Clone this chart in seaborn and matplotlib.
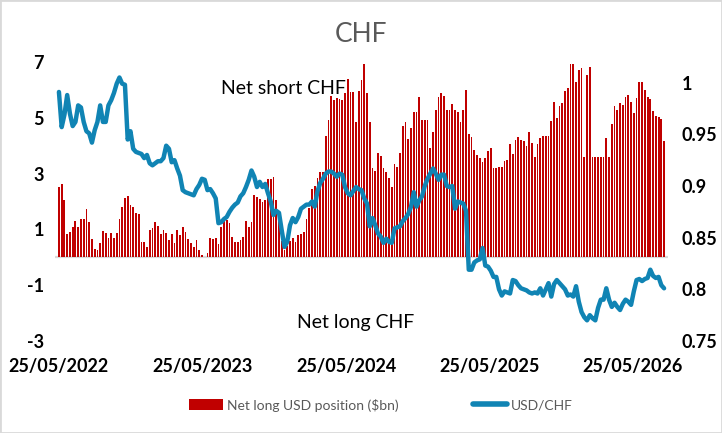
import numpy as np
import pandas as pd
import matplotlib
matplotlib.use("Agg")
import matplotlib.pyplot as plt
import matplotlib.dates as mdates
from matplotlib.patches import Patch, Rectangle
from matplotlib.lines import Line2D
import seaborn as sns

# weekly data, starting 25/05/2022
start_date = "2022-05-25"

# net long USD position vs CHF ($bn)
net_long_usd = [
    2.52, 2.64, 2.05, 0.83, 0.90, 1.08, 1.29, 1.08, 1.37, 1.39,
    1.73, 1.27, 0.65, 0.29, 0.26, 0.50, 0.94, 0.86, 0.70, 0.86,
    0.70, 0.86, 1.39, 1.82, 2.13, 2.18, 1.87, 1.82, 1.58, 1.56,
    0.55, 0.55, 0.36, 0.98, 1.06, 1.27, 1.13, 0.84, 0.98, 0.86,
    0.62, 0.82, 0.50, 0.98, 0.79, 1.08, 0.91, 0.65, 0.50, 0.38,
    0.62, 0.26, 0.10, 0.02, 0.14, 0.70, 0.65, 0.70, 0.48, 1.10,
    1.46, 1.34, 1.22, 0.74, 0.55, 0.55, 0.62, 0.74, 1.29, 1.08,
    1.25, 2.23, 2.16, 2.09, 1.99, 2.04, 2.80, 2.80, 2.88, 2.05,
    1.29, 0.58, 0.26, 0.40, 0.58, 0.70, 0.55, 0.80, 0.85, 0.90,
    1.37, 1.75, 2.45, 2.54, 2.85, 3.05, 3.05, 4.35, 4.93, 5.79,
    5.64, 5.71, 5.67, 5.64, 5.90, 6.39, 5.94, 5.94, 4.86, 5.97,
    6.37, 6.94, 5.90, 4.86, 3.20, 3.09, 3.74, 3.63, 3.20, 3.06,
    2.84, 2.52, 3.33, 3.24, 3.75, 4.69, 4.86, 4.23, 4.62, 5.22,
    5.22, 5.76, 4.93, 4.93, 4.93, 3.92, 4.50, 5.29, 5.76, 5.90,
    5.79, 5.29, 5.29, 5.50, 5.29, 5.22, 4.86, 5.29, 6.01, 4.42,
    4.32, 3.85, 3.67, 3.56, 3.42, 3.56, 3.81, 3.92, 3.20, 3.20,
    3.24, 3.24, 3.45, 3.49, 4.06, 3.70, 4.21, 4.32, 4.21, 4.17,
    3.99, 4.50, 4.10, 3.60, 4.06, 4.28, 4.35, 4.35, 4.35, 4.89,
    5.58, 5.00, 5.43, 5.54, 5.97, 6.08, 6.94, 6.94, 6.29, 6.73,
    6.80, 3.60, 6.55, 6.83, 3.60, 3.60, 3.60, 3.60, 3.60, 4.28,
    3.60, 4.78, 5.43, 5.29, 5.54, 5.47, 5.76, 5.83, 5.58, 5.18,
    5.72, 6.29, 6.29, 6.01, 5.76, 5.68, 5.25, 5.07, 5.04, 4.96,
    4.17,
]

# USD/CHF spot, right axis
usd_chf = [
    0.991, 0.957, 0.969, 0.988, 0.970, 0.958, 0.962, 0.978, 0.976, 0.962,
    0.953, 0.951, 0.942, 0.954, 0.962, 0.978, 0.962, 0.962, 0.978, 0.983,
    0.990, 0.999, 1.005, 0.999, 0.998, 0.945, 0.953, 0.936, 0.933, 0.932,
    0.931, 0.927, 0.930, 0.922, 0.920, 0.922, 0.924, 0.924, 0.927, 0.939,
    0.936, 0.923, 0.925, 0.917, 0.910, 0.896, 0.894, 0.893, 0.892, 0.891,
    0.897, 0.901, 0.907, 0.906, 0.896, 0.897, 0.893, 0.888, 0.864, 0.865,
    0.868, 0.870, 0.875, 0.879, 0.882, 0.884, 0.890, 0.893, 0.899, 0.906,
    0.915, 0.909, 0.899, 0.904, 0.899, 0.902, 0.893, 0.885, 0.872, 0.876,
    0.874, 0.857, 0.841, 0.846, 0.862, 0.869, 0.865, 0.870, 0.878, 0.880,
    0.882, 0.882, 0.885, 0.880, 0.895, 0.903, 0.907, 0.912, 0.914, 0.914,
    0.912, 0.909, 0.912, 0.911, 0.899, 0.893, 0.891, 0.895, 0.899, 0.897,
    0.896, 0.888, 0.883, 0.861, 0.869, 0.862, 0.854, 0.851, 0.845, 0.849,
    0.846, 0.845, 0.859, 0.860, 0.861, 0.866, 0.869, 0.873, 0.880, 0.894,
    0.880, 0.886, 0.890, 0.900, 0.907, 0.912, 0.917, 0.912, 0.906, 0.911,
    0.911, 0.900, 0.899, 0.900, 0.878, 0.885, 0.884, 0.883, 0.876, 0.819,
    0.819, 0.826, 0.828, 0.829, 0.840, 0.823, 0.822, 0.818, 0.812, 0.812,
    0.800, 0.794, 0.798, 0.797, 0.796, 0.809, 0.808, 0.804, 0.801, 0.800,
    0.799, 0.797, 0.796, 0.797, 0.796, 0.801, 0.794, 0.800, 0.806, 0.793,
    0.805, 0.809, 0.806, 0.803, 0.800, 0.794, 0.795, 0.793, 0.803, 0.788,
    0.778, 0.773, 0.770, 0.775, 0.772, 0.770, 0.782, 0.790, 0.790, 0.801,
    0.790, 0.783, 0.787, 0.783, 0.780, 0.786, 0.790, 0.788, 0.785, 0.798,
    0.809, 0.810, 0.808, 0.810, 0.811, 0.819, 0.813, 0.811, 0.812, 0.804,
    0.801,
]

tick_dates = ["2022-05-25", "2023-05-25", "2024-05-25", "2025-05-25", "2026-05-25"]
left_ticks = [-3, -1, 1, 3, 5, 7]
right_ticks = [0.75, 0.8, 0.85, 0.9, 0.95, 1.0]

bar_color = "#C00000"
line_color = "#1084B4"
grey = "#595959"

sns.set_style("white")
plt.rcParams["font.family"] = ["Lato", "DejaVu Sans"]

dates = pd.date_range(start_date, periods=len(net_long_usd), freq="7D")
df = pd.DataFrame({
    "date": mdates.date2num(dates),
    "net_long": net_long_usd,
    "usdchf": usd_chf,
})

fig = plt.figure(figsize=(7.22, 4.33), dpi=100)
ax = fig.add_axes([55 / 722, 1 - 341 / 433, 613 / 722, 279 / 433])

ax.axhline(0, color="#D9D9D9", lw=1.6, zorder=0.5)
sns.barplot(data=df, x="date", y="net_long", native_scale=True, color=bar_color,
            saturation=1, width=0.68, errorbar=None, ax=ax, zorder=2,
            edgecolor="none", linewidth=0)

ax2 = ax.twinx()
sns.lineplot(data=df, x="date", y="usdchf", ax=ax2, color=line_color, lw=3.2)

x0 = df["date"].iloc[0]
x1 = df["date"].iloc[-1]
ax.set_xlim(x0 - 10, x1 + 10)
ax.set_ylim(-3, 7)
ax2.set_ylim(0.75, 1.02)

ax.set_xticks(mdates.date2num(pd.to_datetime(tick_dates)))
ax.xaxis.set_major_formatter(mdates.DateFormatter("%d/%m/%Y"))
ax.set_yticks(left_ticks)
ax.set_yticklabels([str(t) for t in left_ticks])
ax2.set_yticks(right_ticks)
ax2.set_yticklabels([f"{t:g}" for t in right_ticks])

for a in (ax, ax2):
    a.set_xlabel("")
    a.set_ylabel("")
    for s in a.spines.values():
        s.set_visible(False)
    a.grid(False)

ax.tick_params(axis="x", length=0, pad=12, labelsize=13)
ax.tick_params(axis="y", length=0, pad=8, labelsize=13)
ax2.tick_params(axis="y", length=0, pad=10, labelsize=13)
for lab in ax.get_xticklabels() + ax.get_yticklabels() + ax2.get_yticklabels():
    lab.set_fontweight("bold")
    lab.set_color("black")

ax.text(0.372, 0.905, "Net short CHF", transform=ax.transAxes, ha="center",
        va="center", fontsize=14, color="black")
ax.text(0.491, 0.065, "Net long CHF", transform=ax.transAxes, ha="center",
        va="center", fontsize=14, color="black")

fig.text(361 / 722, 1 - 35 / 433, "CHF", ha="center", va="center",
         fontsize=19, color=grey)

handles = [Patch(facecolor=bar_color, edgecolor="none"),
           Line2D([0], [0], color=line_color, lw=4)]
fig.legend(handles, ["Net long USD position ($bn)", "USD/CHF"],
           loc="center", bbox_to_anchor=(381 / 722, 1 - 405 / 433), ncol=2,
           frameon=False, fontsize=10, labelcolor=grey, handlelength=2.4,
           handleheight=0.9, columnspacing=5.4, handletextpad=0.3)

fig.patches.append(Rectangle((0, 0), 1, 1, transform=fig.transFigure,
                             fill=False, edgecolor="#D9D9D9", lw=2))

fig.savefig("out.png", dpi=100)
